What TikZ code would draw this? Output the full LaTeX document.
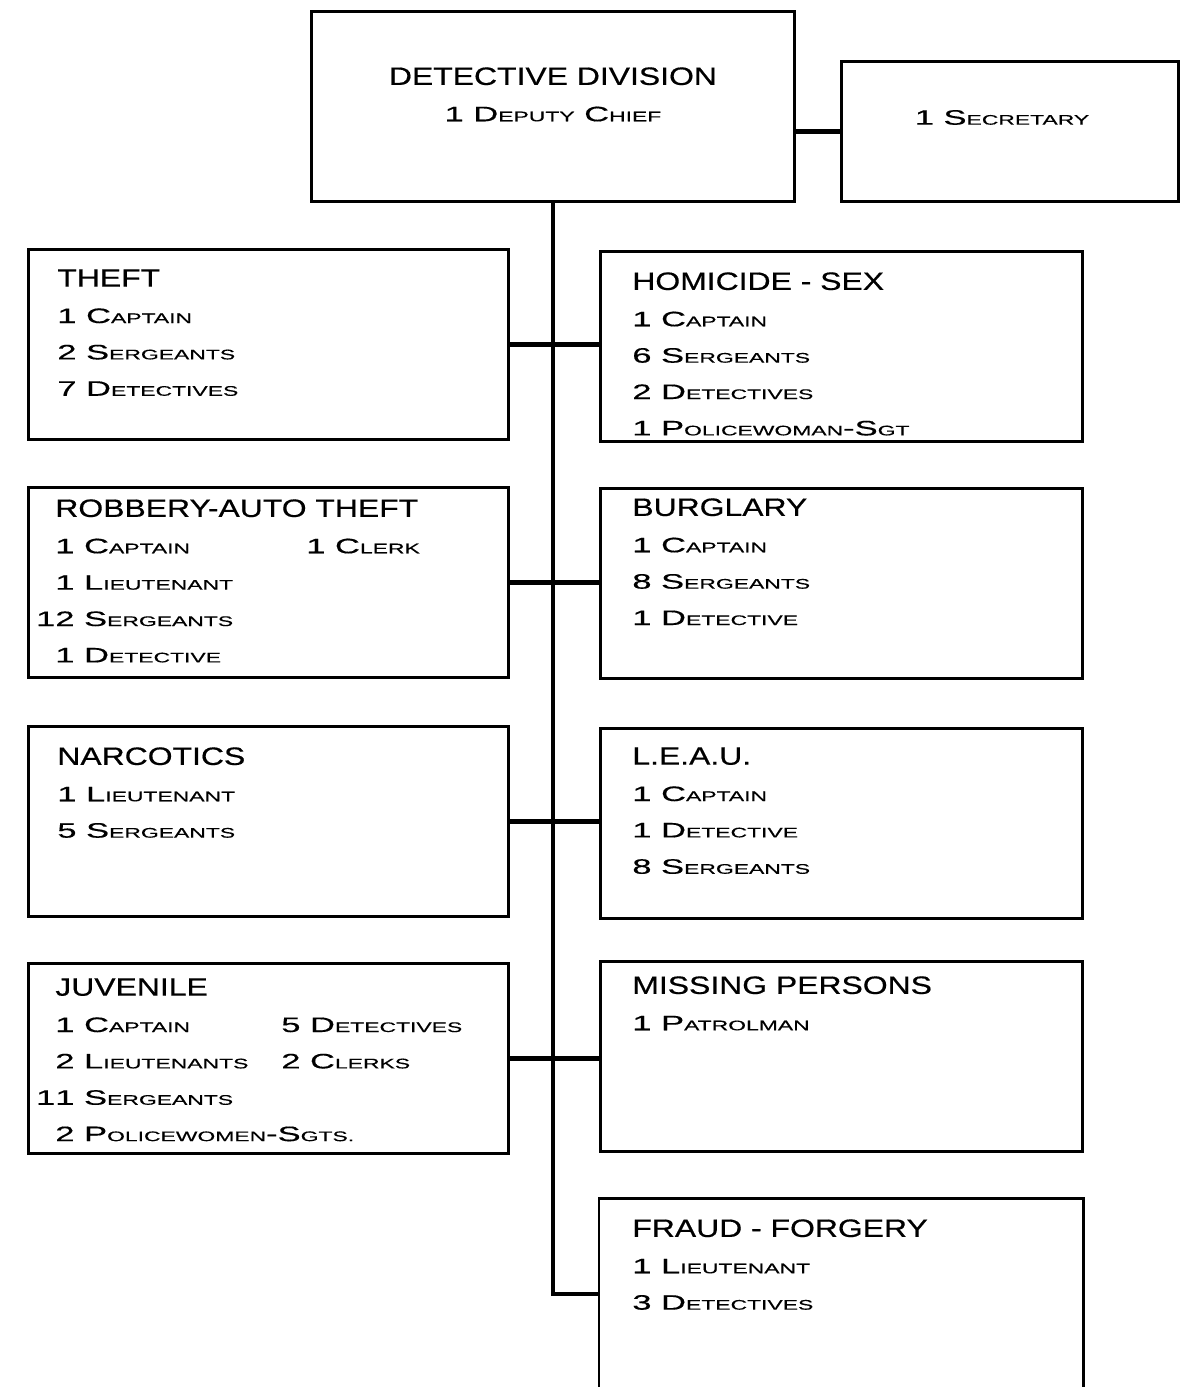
\documentclass[tikz,border=0pt]{standalone}
\usepackage{fontspec}
\setmainfont{Liberation Sans}
\newfontfamily\headfont[FakeStretch=1.27,FakeBold=0.5]{Liberation Sans}
\newfontfamily\itemfont[FakeStretch=1.65,FakeBold=0.4]{Liberation Sans}
\newcommand\sm[1]{{\fontsize{7.9}{20.7}\selectfont #1}}
\newcommand\hd[1]{{\headfont\fontsize{14.3}{20.7}\selectfont #1}}

\begin{document}
\begin{tikzpicture}[x=0.02cm, y=-0.02cm,
    unit/.style={draw, line width=1.7pt, anchor=north west, inner sep=0pt,
        minimum width=9.6cm, minimum height=3.8cm},
    runit/.style={unit, minimum width=9.64cm},
    staff/.style={anchor=north west, inner sep=0pt, align=left,
        font=\itemfont\fontsize{11.9}{20.7}\selectfont},
    link/.style={line width=2.3pt}]
    \useasboundingbox (0,0) rectangle (1187,1387);
    \node[unit, minimum width=9.66cm] (chief) at (310,10) {};
    \node[unit, minimum width=6.74cm, minimum height=2.8cm] (secretary) at (840,60) {};
    \node[unit] (theft) at (27,248) {};
    \node[unit] (robbery) at (27,486) {};
    \node[unit] (narcotics) at (27,725) {};
    \node[unit] (juvenile) at (27,962) {};
    \node[runit] (homicide) at (599,250) {};
    \node[runit] (burglary) at (599,487) {};
    \node[runit] (leau) at (599,727) {};
    \node[runit] (missing) at (599,960) {};
    \node[runit, draw=none, minimum height=3.78cm] (fraud) at (599,1198) {};
    \draw[line width=1.7pt] (fraud.south west) |- (fraud.north east) -- (fraud.south east);

    \node[staff, anchor=north, align=center] (chief-txt) at ([shift={(0,57)}]chief.north)
        {\hd{DETECTIVE DIVISION}\\1 D\sm{EPUTY} C\sm{HIEF}};
    \node[staff, anchor=center] (secretary-txt) at ([shift={(-8,-14)}]secretary.center)
        {1 S\sm{ECRETARY}};
    \node[staff] (theft-txt) at ([shift={(30,21)}]theft.north west)
        {\hd{THEFT}\\1 C\sm{APTAIN}\\2 S\sm{ERGEANTS}\\7 D\sm{ETECTIVES}};
    \node[staff] (robbery-txt) at ([shift={(28,13)}]robbery.north west)
        {\hd{ROBBERY-AUTO THEFT}\\\makebox[5.02cm][l]{1 C\sm{APTAIN}}1 C\sm{LERK}\\
         1 L\sm{IEUTENANT}\\\llap{1}2 S\sm{ERGEANTS}\\1 D\sm{ETECTIVE}};
    \node[staff] (narcotics-txt) at ([shift={(30,22)}]narcotics.north west)
        {\hd{NARCOTICS}\\1 L\sm{IEUTENANT}\\5 S\sm{ERGEANTS}};
    \node[staff] (juvenile-txt) at ([shift={(28,16)}]juvenile.north west)
        {\hd{JUVENILE}\\\makebox[4.52cm][l]{1 C\sm{APTAIN}}5 D\sm{ETECTIVES}\\
         \makebox[4.52cm][l]{2 L\sm{IEUTENANTS}}2 C\sm{LERKS}\\
         \llap{1}1 S\sm{ERGEANTS}\\2 P\sm{OLICEWOMEN}-S\sm{GTS.}};
    \node[staff] (homicide-txt) at ([shift={(33,22)}]homicide.north west)
        {\hd{HOMICIDE - SEX}\\1 C\sm{APTAIN}\\6 S\sm{ERGEANTS}\\2 D\sm{ETECTIVES}\\
         1 P\sm{OLICEWOMAN}-S\sm{GT}};
    \node[staff] (burglary-txt) at ([shift={(33,11)}]burglary.north west)
        {\hd{BURGLARY}\\1 C\sm{APTAIN}\\8 S\sm{ERGEANTS}\\1 D\sm{ETECTIVE}};
    \node[staff] (leau-txt) at ([shift={(33,20)}]leau.north west)
        {\hd{L.E.A.U.}\\1 C\sm{APTAIN}\\1 D\sm{ETECTIVE}\\8 S\sm{ERGEANTS}};
    \node[staff] (missing-txt) at ([shift={(33,16)}]missing.north west)
        {\hd{MISSING PERSONS}\\1 P\sm{ATROLMAN}};
    \node[staff] (fraud-txt) at ([shift={(33,21)}]fraud.north west)
        {\hd{FRAUD - FORGERY}\\1 L\sm{IEUTENANT}\\3 D\sm{ETECTIVES}};

    \draw[link] (secretary.west) -- (secretary.west -| chief.east);
    \draw[link] (chief.south) |- (fraud.west);
    \draw[link] (theft.east) -- (theft.east -| homicide.west);
    \draw[link] (robbery.east) -- (robbery.east -| burglary.west);
    \draw[link] (narcotics.east) -- (narcotics.east -| leau.west);
    \draw[link] (juvenile.east) -- (juvenile.east -| missing.west);
\end{tikzpicture}
\end{document}
